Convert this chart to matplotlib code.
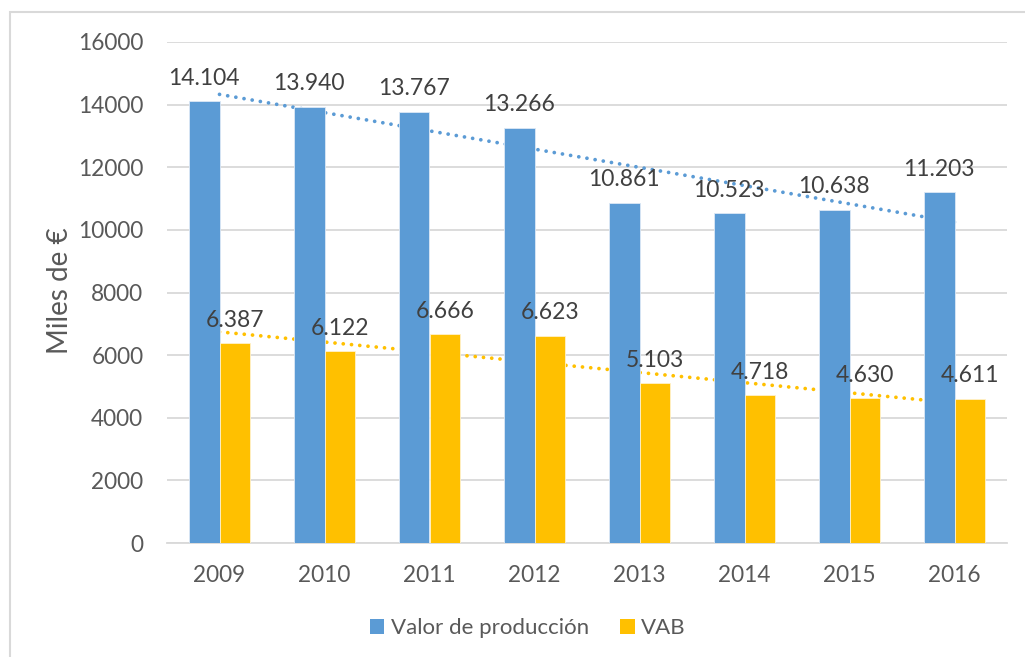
import numpy as np
import matplotlib.pyplot as plt
from matplotlib.patches import Rectangle, Patch

years = ['2009', '2010', '2011', '2012', '2013', '2014', '2015', '2016']
valor_produccion = [14104, 13940, 13767, 13266, 10861, 10523, 10638, 11203]
vab = [6387, 6122, 6666, 6623, 5103, 4718, 4630, 4611]
series_names = ['Valor de producción', 'VAB']

plt.rcParams['font.family'] = ['Lato', 'DejaVu Sans']

blue = '#5B9BD5'
gold = '#FFC000'
tick_col = '#595959'
label_col = '#404040'

fig = plt.figure(figsize=(10.25, 6.57), dpi=100)
ax = fig.add_axes([167 / 1025, 1 - 543 / 657, 840 / 1025, 501 / 657])

# chart border (only top/left are visible in the crop)
fig.patches.append(Rectangle((10 / 1025, -0.1), 1.2, 1 - 12 / 657 + 0.1,
                             transform=fig.transFigure, fill=False,
                             edgecolor='#D9D9D9', linewidth=1.5))

x = np.arange(len(years))
w = 0.29

# linear trendlines, drawn behind the bars
for vals, col in [(valor_produccion, blue), (vab, gold)]:
    k, b = np.polyfit(x, vals, 1)
    ax.plot(x, k * x + b, linestyle=(0, (0.01, 2.2)), color=col,
            linewidth=2.7, dash_capstyle='round', zorder=2)

b1 = ax.bar(x - w / 2, valor_produccion, w, color=blue, edgecolor='#DCE8F5',
            linewidth=0.6, zorder=3)
b2 = ax.bar(x + w / 2, vab, w, color=gold, edgecolor='#FFF2CC',
            linewidth=0.6, zorder=3)

for bars, vals in [(b1, valor_produccion), (b2, vab)]:
    for r, v in zip(bars, vals):
        txt = f'{v:,}'.replace(',', '.')
        ax.annotate(txt, (r.get_x() + r.get_width() / 2, v), xytext=(0, 9),
                    textcoords='offset points', ha='center', va='bottom',
                    fontsize=16.5, color=label_col, zorder=5)

ax.set_xlim(-0.5, len(years) - 0.5)
ax.set_ylim(0, 16000)
ax.set_yticks(range(0, 16001, 2000))
ax.set_xticks(x)
ax.set_xticklabels(years)
ax.tick_params(axis='both', length=0, labelsize=16.3, labelcolor=tick_col)
ax.tick_params(axis='y', pad=17)
ax.tick_params(axis='x', pad=16)
ax.grid(axis='y', color='#D9D9D9', linewidth=1.3, zorder=0)
ax.set_axisbelow(True)
for s in ['top', 'right', 'left']:
    ax.spines[s].set_visible(False)
ax.spines['bottom'].set_color('#D9D9D9')
ax.spines['bottom'].set_linewidth(1.3)

fig.text(60 / 1025, 1 - 291 / 657, 'Miles de €', rotation=90, ha='center',
         va='center', fontsize=20, color=tick_col)

handles = [Patch(facecolor=blue), Patch(facecolor=gold)]
fig.legend(handles, series_names, loc='center', bbox_to_anchor=(528 / 1025, 1 - 628 / 657),
           ncol=2, frameon=False, fontsize=16, labelcolor=tick_col,
           handlelength=0.65, handleheight=0.65, handletextpad=0.3, columnspacing=1.4)

fig.savefig('out.png', dpi=100, facecolor='white')
